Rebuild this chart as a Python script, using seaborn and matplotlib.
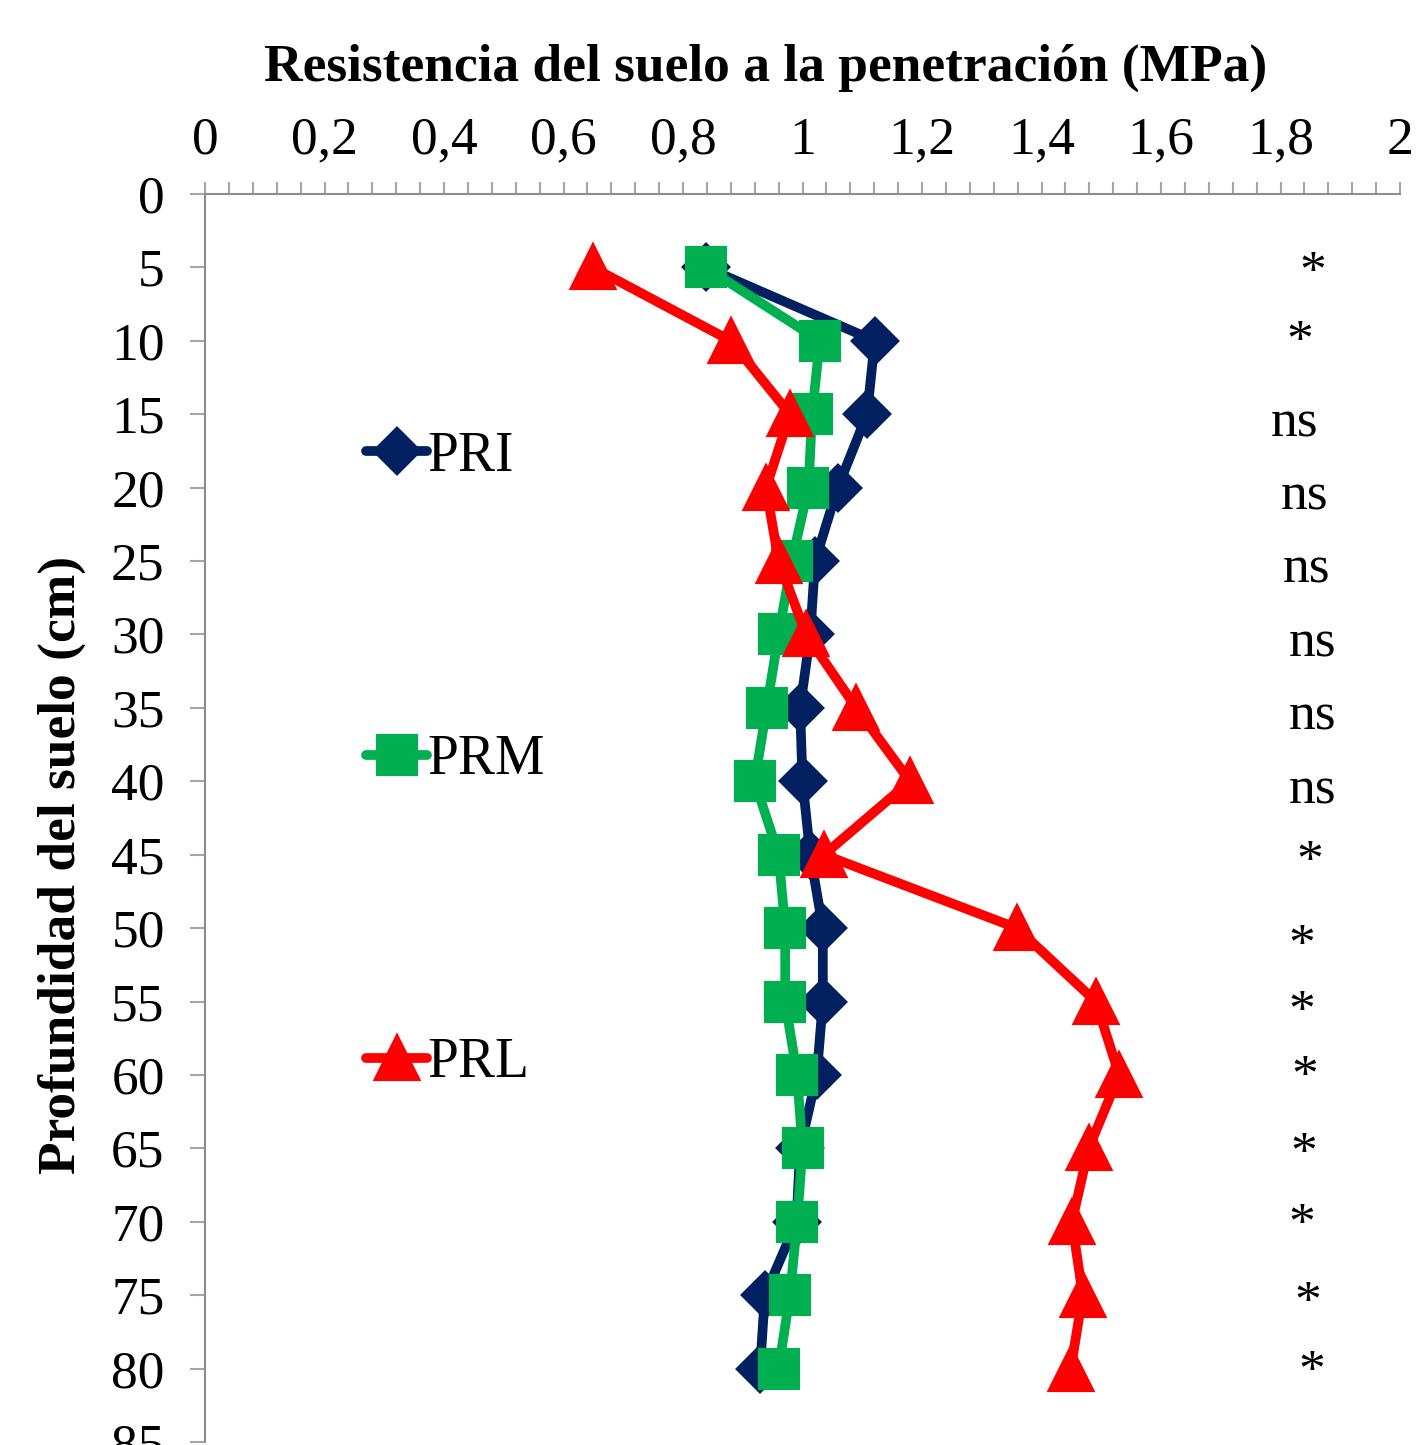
import numpy as np
import pandas as pd
import matplotlib
matplotlib.use("Agg")
import matplotlib.pyplot as plt
import matplotlib.transforms as mtrans
import seaborn as sns
from matplotlib.ticker import MultipleLocator, FuncFormatter

# depth (cm) and penetration resistance (MPa)
depth = [5, 10, 15, 20, 25, 30, 35, 40, 45, 50, 55, 60, 65, 70, 75, 80]
pri = [0.838, 1.121, 1.108, 1.059, 1.021, 1.013, 0.996, 1.0, 1.013, 1.034,
       1.034, 1.024, 0.996, 0.99, 0.937, 0.929]
prm = [0.838, 1.029, 1.016, 1.01, 0.982, 0.96, 0.94, 0.92, 0.96, 0.971,
       0.971, 0.991, 1.0, 0.991, 0.979, 0.96]
prl = [0.649, 0.88, 0.979, 0.939, 0.96, 1.006, 1.09, 1.18, 1.036, 1.359,
       1.491, 1.53, 1.479, 1.451, 1.469, 1.449]

# significance notes shown at the right side
notes = ["*", "*", "ns", "ns", "ns", "ns", "ns", "ns",
         "*", "*", "*", "*", "*", "*", "*", "*"]
note_x = [1.854, 1.833, 1.824, 1.841, 1.843, 1.854, 1.854, 1.854,
          1.849, 1.836, 1.836, 1.841, 1.839, 1.836, 1.846, 1.853]
note_y = [4.8, 9.5, 15.4, 20.4, 25.4, 30.4, 35.4, 40.4,
          44.9, 50.6, 55.1, 59.5, 64.8, 69.6, 74.9, 79.6]

series = [
    ("PRI", pri, "#002060", "D", 22),
    ("PRM", prm, "#00B050", "s", 27),
    ("PRL", prl, "#FF0000", "^", 30),
]

FS = 38.5

sns.set_theme(style="white")
plt.rcParams["font.family"] = ["Liberation Serif", "DejaVu Serif"]
plt.rcParams["text.color"] = "black"
plt.rcParams["xtick.labelcolor"] = "black"
plt.rcParams["ytick.labelcolor"] = "black"

fig = plt.figure(figsize=(14.19, 14.45), dpi=100)
ax = fig.add_axes([205 / 1419, 1 - 1442 / 1445, 1195 / 1419, 1248 / 1445])

for name, vals, color, mk, ms in series:
    df = pd.DataFrame({"x": vals, "depth": depth})
    sns.lineplot(data=df, x="x", y="depth", orient="y", estimator=None,
                 sort=False, ax=ax, color=color,
                 linewidth=7, marker=mk, markersize=ms, markeredgewidth=3,
                 markeredgecolor=color, label=name, solid_joinstyle="round",
                 solid_capstyle="round")

for txt, nx, ny in zip(notes, note_x, note_y):
    dy = -10 if txt == "*" else -3
    off = mtrans.offset_copy(ax.transData, fig=fig, x=0, y=dy, units="dots")
    ax.text(nx, ny, txt, ha="center", va="center", fontsize=FS, color="black",
            transform=off)

ax.set_xlim(0, 2)
ax.set_ylim(85, 0)
ax.xaxis.tick_top()
ax.xaxis.set_major_locator(MultipleLocator(0.2))
ax.xaxis.set_minor_locator(MultipleLocator(0.04))
ax.yaxis.set_major_locator(MultipleLocator(5))
ax.xaxis.set_major_formatter(FuncFormatter(
    lambda v, p: f"{v:.1f}".rstrip("0").rstrip(".").replace(".", ",")))
ax.set_xlabel("")
ax.set_ylabel("")

ax.tick_params(axis="x", which="both", direction="out", length=9, width=1.5,
               color="#A6A6A6", top=True, bottom=False, labelsize=FS, pad=12,
               labelcolor="black")
ax.tick_params(axis="y", which="major", direction="out", length=11, width=1.5,
               color="#A6A6A6", left=True, labelsize=FS, pad=18,
               labelcolor="black")

for side in ["right", "bottom"]:
    ax.spines[side].set_visible(False)
for side in ["top", "left"]:
    ax.spines[side].set_color("#8C8C8C")
    ax.spines[side].set_linewidth(1.5)

leg = ax.legend(loc="center left", bbox_to_anchor=(0.135, 1 - (760 - 194) / 1248),
                frameon=False, fontsize=40, labelspacing=4.52, handlelength=1.1,
                handletextpad=0.0, borderaxespad=0, borderpad=0,
                labelcolor="black")
for h in leg.legend_handles:
    h.set_linewidth(7)

fig.text(766 / 1419, 1 - 68 / 1445, "Resistencia del suelo a la penetración (MPa)",
         ha="center", va="center", fontsize=FS, fontweight="bold", color="black")
fig.text(62 / 1419, 1 - 865 / 1445, "Profundidad del suelo (cm)", rotation=90,
         ha="center", va="center", fontsize=FS, fontweight="bold", color="black")

fig.savefig("out.png", dpi=100)
